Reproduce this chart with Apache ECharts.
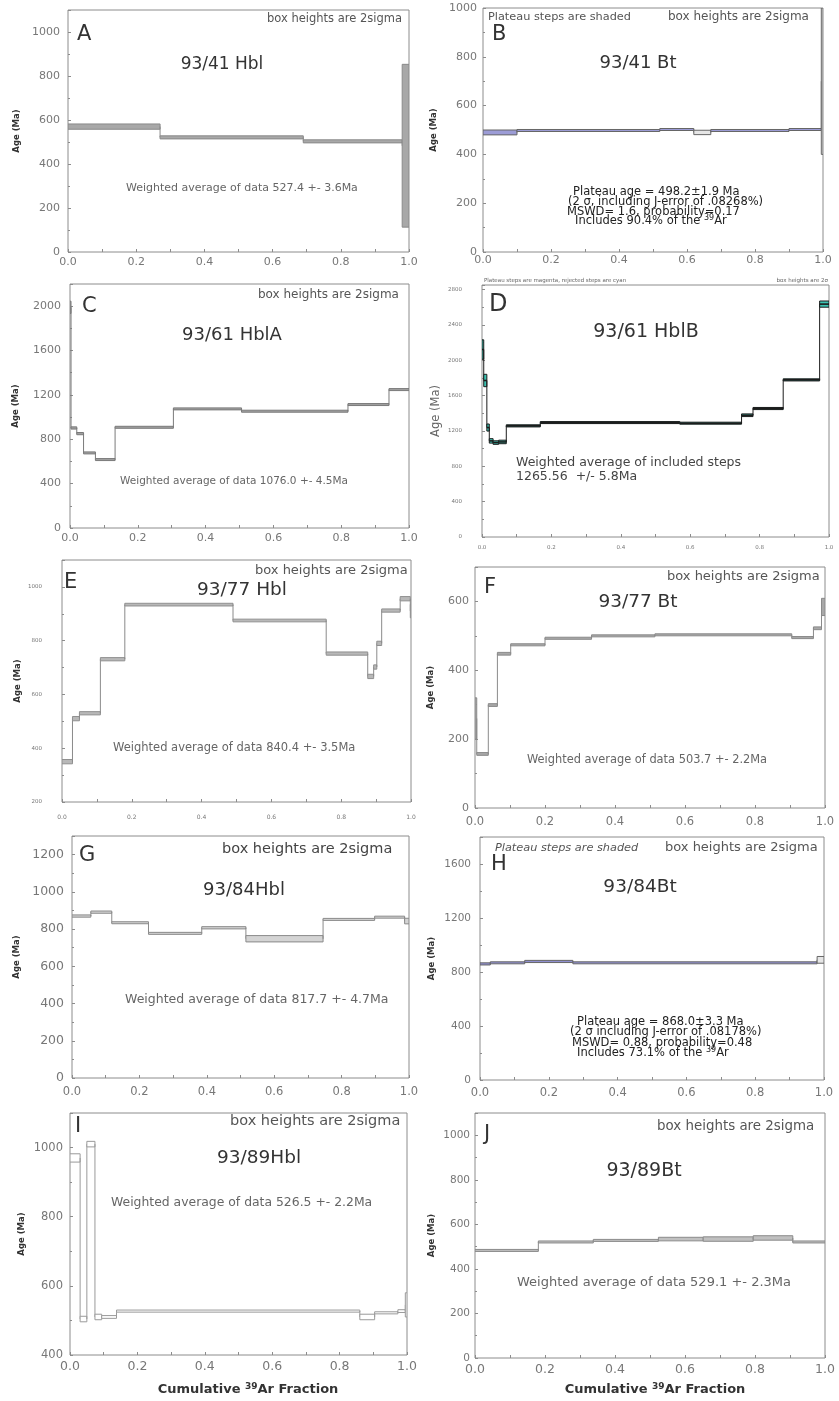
<!DOCTYPE html>
<html>
<head>
<meta charset="utf-8">
<script src="https://cdn.jsdelivr.net/npm/echarts@6/dist/echarts.min.js"></script>
<style>
html, body { margin: 0; padding: 0; background: #fff; }
#main { width: 839px; height: 1401px; }
</style>
</head>
<body>
<div id="main"></div>
<script>
// age spectra: step edges (cumulative 39Ar fraction), ages (Ma), 2 sigma half box heights
var aEdges = [0, 0.27, 0.69, 0.98, 1.0];
var aAges = [570, 521, 503, 483];
var aErrs = [12, 7, 7, 370];

var bEdges = [0, 0.1, 0.52, 0.62, 0.67, 0.9, 0.995, 1.0];
var bAges = [490, 498, 502, 490, 498, 502, 700];
var bErrs = [10, 3, 3, 9, 3, 4, 300];
var bPlateau = [1, 1, 1, 0, 1, 1, 0];

var cEdges = [0, 0.003, 0.02, 0.04, 0.075, 0.133, 0.305, 0.506, 0.82, 0.941, 1.0];
var cAges = [1990, 902, 851, 677, 617, 908, 1074, 1053, 1113, 1248];
var cErrs = [55, 10, 10, 8, 8, 5, 5, 5, 6, 8];

var dEdges = [0, 0.005, 0.014, 0.021, 0.032, 0.048, 0.07, 0.168, 0.57, 0.748, 0.781, 0.868, 0.973, 1.0];
var dAges = [2120, 1770, 1238, 1087, 1068, 1075, 1257, 1294, 1287, 1377, 1453, 1777, 2634];
var dErrs = [110, 70, 40, 25, 20, 20, 12, 8, 8, 15, 12, 12, 35];

var eEdges = [0, 0.03, 0.05, 0.11, 0.18, 0.49, 0.757, 0.876, 0.893, 0.902, 0.916, 0.969, 0.998, 1.0];
var eAges = [350, 510, 530, 731, 934, 875, 752, 667, 702, 790, 912, 956, 910];
var eErrs = [8, 8, 6, 6, 5, 5, 6, 8, 8, 8, 6, 8, 25];

var fEdges = [0, 0.005, 0.038, 0.064, 0.102, 0.2, 0.333, 0.514, 0.905, 0.967, 0.99, 1.0];
var fAges = [260, 157, 299, 448, 474, 493, 500, 503, 495, 522, 584];
var fErrs = [60, 4, 4, 4, 3, 3, 2, 2, 3, 4, 25];

var gEdges = [0, 0.056, 0.118, 0.227, 0.385, 0.516, 0.745, 0.898, 0.987, 1.0];
var gAges = [870, 891, 834, 777, 807, 748, 852, 864, 843];
var gErrs = [6, 6, 5, 5, 6, 17, 5, 5, 15];

var hEdges = [0, 0.03, 0.13, 0.27, 0.98, 1.0];
var hAges = [860, 868, 878, 868, 890];
var hErrs = [8, 4, 8, 3, 25];
var hPlateau = [1, 1, 1, 1, 0];

var iEdges = [0, 0.03, 0.05, 0.074, 0.094, 0.138, 0.86, 0.904, 0.973, 0.995, 1.0];
var iAges = [970, 504, 1010, 510, 510, 527, 510, 522, 527, 545];
var iErrs = [12, 8, 8, 8, 4, 3, 8, 3, 4, 35];

var jEdges = [0, 0.181, 0.338, 0.524, 0.652, 0.795, 0.908, 1.0];
var jAges = [483, 521, 528, 534, 534, 539, 521];
var jErrs = [4, 4, 4, 8, 10, 10, 4];

var spectra = {
    a: [aEdges, aAges, aErrs, null],
    b: [bEdges, bAges, bErrs, bPlateau],
    c: [cEdges, cAges, cErrs, null],
    d: [dEdges, dAges, dErrs, null],
    e: [eEdges, eAges, eErrs, null],
    f: [fEdges, fAges, fErrs, null],
    g: [gEdges, gAges, gErrs, null],
    h: [hEdges, hAges, hErrs, hPlateau],
    i: [iEdges, iAges, iErrs, null],
    j: [jEdges, jAges, jErrs, null]
};

// panel placement: grid [left, top, width, height], y [min, max, interval]
var layout = [
    {key: 'a', grid: [68, 10, 341, 242], y: [0, 1100, 200], yFont: 11, xFont: 11, yMargin: 8, xMargin: 5, nameX: 17},
    {key: 'b', grid: [483, 8, 340, 244], y: [0, 1000, 200], yFont: 11, xFont: 11, yMargin: 6, xMargin: 3, nameX: 434, maxLabel: true},
    {key: 'c', grid: [70, 284, 339, 244], y: [0, 2200, 400], yFont: 11, xFont: 11, yMargin: 9, xMargin: 5, nameX: 16},
    {key: 'd', grid: [482, 285, 347, 252], y: [0, 2850, 400], yFont: 5.5, xFont: 5.5, yMargin: 20, xMargin: 8, nameX: 436, bigName: true},
    {key: 'e', grid: [62, 560, 349, 242], y: [200, 1100, 200], yFont: 5.5, xFont: 6, yMargin: 20, xMargin: 12, nameX: 18},
    {key: 'f', grid: [475, 567, 350, 241], y: [0, 700, 200], yFont: 11, xFont: 11.5, yMargin: 6, xMargin: 8, nameX: 431},
    {key: 'g', grid: [72, 836, 337, 242], y: [0, 1300, 200], yFont: 12.5, xFont: 11.5, yMargin: 8, xMargin: 8, nameX: 17},
    {key: 'h', grid: [480, 837, 344, 243], y: [0, 1800, 400], yFont: 10.5, xFont: 11.5, yMargin: 9, xMargin: 7, nameX: 432},
    {key: 'i', grid: [70, 1113, 337, 242], y: [400, 1100, 200], yFont: 11.5, xFont: 12.5, yMargin: 7, xMargin: 5, nameX: 22},
    {key: 'j', grid: [475, 1113, 350, 245], y: [0, 1100, 200], yFont: 10.5, xFont: 12.5, yMargin: 5, xMargin: 5, nameX: 432}
];

var looks = {
    a: {fill: '#a8a8a8', stroke: '#8a8a8a', link: '#8a8a8a'},
    b: {fill: '#e6e6e6', stroke: '#666', link: '#666', plateau: '#9c9cd6'},
    c: {fill: '#a0a0a0', stroke: '#7a7a7a', link: '#7a7a7a'},
    d: {fill: '#3cc3b2', stroke: '#1c1c1c', link: '#1c1c1c', center: '#1c1c1c'},
    e: {fill: '#b8b8b8', stroke: '#909090', link: '#8a8a8a'},
    f: {fill: '#a8a8a8', stroke: '#8a8a8a', link: '#8a8a8a'},
    g: {fill: '#d4d4d4', stroke: '#8a8a8a', link: '#8a8a8a'},
    h: {fill: '#e6e6e6', stroke: '#666', link: '#666', plateau: '#8f8fd0'},
    i: {fill: '#fff', stroke: '#9a9a9a', link: '#9a9a9a'},
    j: {fill: '#c0c0c0', stroke: '#8a8a8a', link: '#8a8a8a'}
};

var FONT = 'DejaVu Sans';

function stepRender(look) {
    return function (params, api) {
        var x0 = api.value(0), x1 = api.value(1), age = api.value(2), err = api.value(3);
        var tl = api.coord([x0, age + err]);
        var br = api.coord([x1, age - err]);
        var mid = api.coord([x0, age])[1];
        var h = Math.max(br[1] - tl[1], 2);
        var kids = [];
        if (params.dataIndex > 0) {
            var pm = api.coord([x0, api.value(4)])[1];
            kids.push({type: 'line', shape: {x1: tl[0], y1: pm, x2: tl[0], y2: mid},
                style: {stroke: look.link, lineWidth: 1}});
        }
        kids.push({type: 'rect', shape: {x: tl[0], y: mid - h / 2, width: br[0] - tl[0], height: h},
            style: {fill: api.value(5) ? look.plateau : look.fill, stroke: look.stroke, lineWidth: 1}});
        if (look.center) {
            kids.push({type: 'line', shape: {x1: tl[0], y1: mid, x2: br[0], y2: mid},
                style: {stroke: look.center, lineWidth: 1.6}});
        }
        return {type: 'group', children: kids};
    };
}

function txt(x, y, s, size, opts) {
    opts = opts || {};
    return {
        type: 'text', x: x, y: y, rotation: opts.rot || 0, silent: true,
        style: {
            text: s, fontSize: size, fontFamily: opts.family || FONT,
            fontWeight: opts.bold ? 'bold' : 'normal', fontStyle: opts.italic ? 'italic' : 'normal',
            fill: opts.color || '#444', align: opts.align || 'left', verticalAlign: 'middle',
            rich: opts.rich
        }
    };
}

function supText(x, y, pre, sup, post, size, opts) {
    opts = opts || {};
    var base = {fontSize: size, fontFamily: FONT, fontWeight: opts.bold ? 'bold' : 'normal', fill: opts.color || '#222', lineHeight: size + 2};
    var small = {fontSize: Math.round(size * 0.68), fontFamily: FONT, fontWeight: opts.bold ? 'bold' : 'normal', fill: opts.color || '#222', verticalAlign: 'top', lineHeight: size + 2};
    return txt(x, y, '{n|' + pre + '}{s|' + sup + '}{n|' + post + '}', size,
        {align: opts.align, rich: {n: base, s: small}});
}

var grids = [], xAxes = [], yAxes = [], series = [];
layout.forEach(function (p, k) {
    grids.push({left: p.grid[0], top: p.grid[1], width: p.grid[2], height: p.grid[3],
        show: true, borderColor: '#8c8c8c', borderWidth: 1, backgroundColor: 'transparent'});
    xAxes.push({
        type: 'value', gridIndex: k, min: 0, max: 1, interval: 0.2,
        axisLine: {show: false},
        axisTick: {show: true, inside: true, length: 3, lineStyle: {color: '#8c8c8c'}},
        minorTick: {show: true, splitNumber: 2, length: 3, lineStyle: {color: '#8c8c8c'}},
        splitLine: {show: false},
        axisLabel: {fontSize: p.xFont, fontFamily: FONT, color: '#777', margin: p.xMargin,
            formatter: function (v) { return v.toFixed(1); }}
    });
    yAxes.push({
        type: 'value', gridIndex: k, min: p.y[0], max: p.y[1], interval: p.y[2],
        axisLine: {show: false},
        axisTick: {show: true, inside: true, length: 3, lineStyle: {color: '#8c8c8c'}},
        minorTick: {show: true, splitNumber: 2, length: 2, lineStyle: {color: '#8c8c8c'}},
        splitLine: {show: false},
        axisLabel: {fontSize: p.yFont, fontFamily: FONT, color: '#777', margin: p.yMargin,
            showMaxLabel: !!p.maxLabel, showMinLabel: true,
            formatter: function (v) { return String(Math.round(v)); }}
    });
    var sp = spectra[p.key], rows = [];
    for (var i = 0; i < sp[1].length; i++) {
        rows.push([sp[0][i], sp[0][i + 1], sp[1][i], sp[2][i], i > 0 ? sp[1][i - 1] : sp[1][i], sp[3] ? sp[3][i] : 0]);
    }
    series.push({type: 'custom', xAxisIndex: k, yAxisIndex: k, clip: true, silent: true,
        renderItem: stepRender(looks[p.key]), data: rows});
});

var texts = [];
// y axis titles
layout.forEach(function (p) {
    var cy = p.grid[1] + p.grid[3] / 2;
    if (p.bigName) {
        texts.push(txt(p.nameX, cy, 'Age (Ma)', 11.5, {rot: Math.PI / 2, align: 'center', color: '#666'}));
    } else {
        texts.push(txt(p.nameX, cy, 'Age (Ma)', 8.5, {rot: Math.PI / 2, align: 'center', bold: true, color: '#333'}));
    }
});

// A
texts.push(txt(77, 35, 'A', 21, {color: '#333'}));
texts.push(txt(222, 65, '93/41 Hbl', 17, {align: 'center', color: '#333'}));
texts.push(txt(267, 19, 'box heights are 2sigma', 11.5, {color: '#555'}));
texts.push(txt(126, 188, 'Weighted average of data 527.4 +- 3.6Ma', 11, {color: '#666'}));
// B
texts.push(txt(488, 17, 'Plateau steps are shaded', 11.3, {color: '#555'}));
texts.push(txt(668, 17, 'box heights are 2sigma', 12, {color: '#555'}));
texts.push(txt(492, 35, 'B', 21, {color: '#333'}));
texts.push(txt(638, 63, '93/41 Bt', 18, {align: 'center', color: '#333'}));
texts.push(txt(573, 192, 'Plateau age = 498.2\u00b11.9 Ma', 11.5, {color: '#222'}));
texts.push(txt(568, 202, '(2 \u03c3, including J-error of .08268%)', 11.5, {color: '#222'}));
texts.push(txt(567, 212, 'MSWD= 1.6, probability=0.17', 11.5, {color: '#222'}));
texts.push(supText(575, 221, 'Includes 90.4% of the ', '39', 'Ar', 11.5));
// C
texts.push(txt(82, 307, 'C', 21, {color: '#333'}));
texts.push(txt(232, 335, '93/61 HblA', 18, {align: 'center', color: '#333'}));
texts.push(txt(258, 295, 'box heights are 2sigma', 12, {color: '#555'}));
texts.push(txt(120, 481, 'Weighted average of data 1076.0 +- 4.5Ma', 10.5, {color: '#666'}));
// D
texts.push(txt(484, 281, 'Plateau steps are magenta, rejected steps are cyan', 5.5, {color: '#666'}));
texts.push(txt(828, 281, 'box heights are 2\u03c3', 5.5, {align: 'right', color: '#666'}));
texts.push(txt(489, 305, 'D', 24, {color: '#333'}));
texts.push(txt(646, 332, '93/61 HblB', 19, {align: 'center', color: '#333'}));
texts.push(txt(516, 463, 'Weighted average of included steps', 12.5, {color: '#444'}));
texts.push(txt(516, 477, '1265.56  +/- 5.8Ma', 12.5, {color: '#444'}));
// E
texts.push(txt(64, 583, 'E', 21, {color: '#333'}));
texts.push(txt(242, 590, '93/77 Hbl', 18.5, {align: 'center', color: '#333'}));
texts.push(txt(255, 571, 'box heights are 2sigma', 13, {color: '#555'}));
texts.push(txt(113, 748, 'Weighted average of data 840.4 +- 3.5Ma', 11.5, {color: '#666'}));
// F
texts.push(txt(484, 588, 'F', 21, {color: '#333'}));
texts.push(txt(638, 602, '93/77 Bt', 18.5, {align: 'center', color: '#333'}));
texts.push(txt(667, 577, 'box heights are 2sigma', 13, {color: '#555'}));
texts.push(txt(527, 760, 'Weighted average of data 503.7 +- 2.2Ma', 11.4, {color: '#666'}));
// G
texts.push(txt(79, 856, 'G', 21, {color: '#333'}));
texts.push(txt(244, 890, '93/84Hbl', 18, {align: 'center', color: '#333'}));
texts.push(txt(222, 849, 'box heights are 2sigma', 14.5, {color: '#444'}));
texts.push(txt(125, 1000, 'Weighted average of data 817.7 +- 4.7Ma', 12.5, {color: '#666'}));
// H
texts.push(txt(495, 848, 'Plateau steps are shaded', 11.3, {color: '#555', italic: true}));
texts.push(txt(665, 848, 'box heights are 2sigma', 13, {color: '#555'}));
texts.push(txt(491, 865, 'H', 21, {color: '#333'}));
texts.push(txt(640, 887, '93/84Bt', 18.5, {align: 'center', color: '#333'}));
texts.push(txt(577, 1022, 'Plateau age = 868.0\u00b13.3 Ma', 11.5, {color: '#222'}));
texts.push(txt(570, 1032, '(2 \u03c3 including J-error of .08178%)', 11.5, {color: '#222'}));
texts.push(txt(572, 1043, 'MSWD= 0.88, probability=0.48', 11.5, {color: '#222'}));
texts.push(supText(577, 1053, 'Includes 73.1% of the ', '39', 'Ar', 11.5));
// I
texts.push(txt(75, 1127, 'I', 21, {color: '#333'}));
texts.push(txt(259, 1158, '93/89Hbl', 18.5, {align: 'center', color: '#333'}));
texts.push(txt(230, 1121, 'box heights are 2sigma', 14.5, {color: '#555'}));
texts.push(txt(111, 1203, 'Weighted average of data 526.5 +- 2.2Ma', 12.4, {color: '#666'}));
texts.push(supText(248, 1390, 'Cumulative ', '39', 'Ar Fraction', 13, {bold: true, align: 'center', color: '#333'}));
// J
texts.push(txt(484, 1135, 'J', 21, {color: '#333'}));
texts.push(txt(644, 1171, '93/89Bt', 19, {align: 'center', color: '#333'}));
texts.push(txt(657, 1127, 'box heights are 2sigma', 13.4, {color: '#555'}));
texts.push(txt(517, 1283, 'Weighted average of data 529.1 +- 2.3Ma', 13, {color: '#666'}));
texts.push(supText(655, 1390, 'Cumulative ', '39', 'Ar Fraction', 13, {bold: true, align: 'center', color: '#333'}));

var chart = echarts.init(document.getElementById('main'), null, {renderer: 'canvas'});
chart.setOption({
    animation: false,
    backgroundColor: '#fff',
    grid: grids,
    xAxis: xAxes,
    yAxis: yAxes,
    series: series,
    graphic: texts
});
</script>
</body>
</html>
